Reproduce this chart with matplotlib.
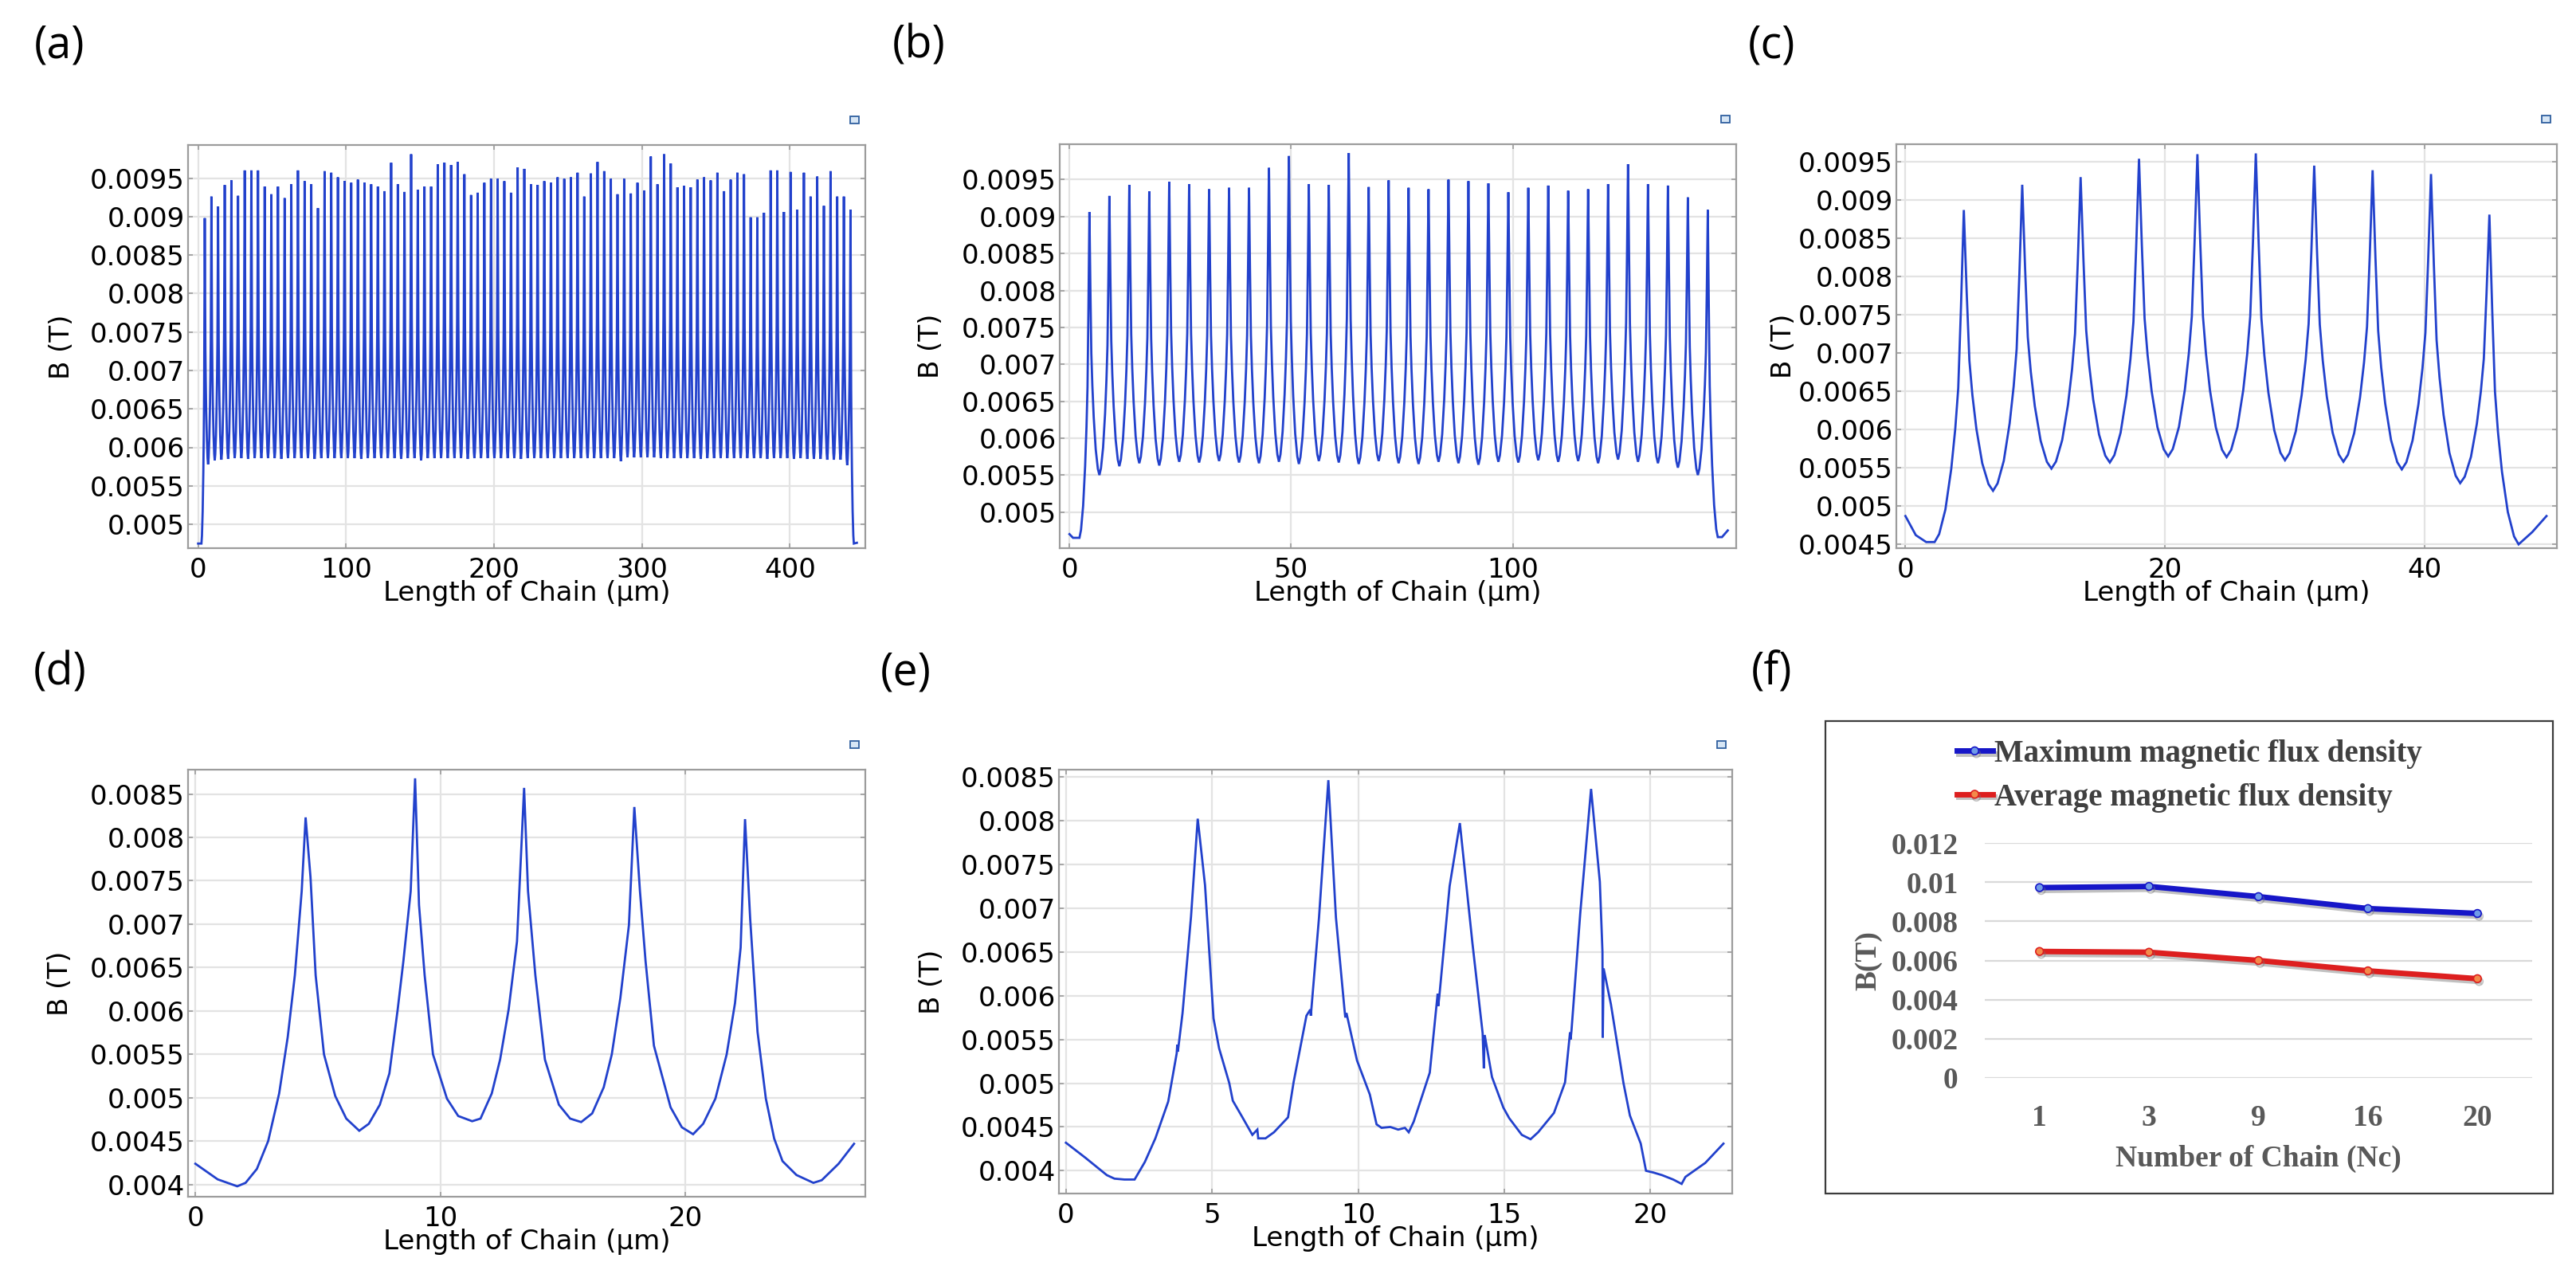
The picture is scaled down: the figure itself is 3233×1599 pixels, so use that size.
import matplotlib.pyplot as plt
import matplotlib.patheffects as pe
from matplotlib.lines import Line2D
from matplotlib.patches import Rectangle
import numpy as np

W, H = 3233, 1599

# shape of one peak (fraction of height above trough vs distance from peak, um)
PROFILE_DX = [0.0, 0.22, 0.43, 0.66, 0.97, 1.42, 1.9, 2.25]
PROFILE_F = [1.0, 0.707, 0.463, 0.341, 0.22, 0.098, 0.024, 0.0]
PITCH = 4.5

# (a) peak and trough values, mT
A_PEAK = [8.98, 9.26, 9.13, 9.41, 9.47, 9.27, 9.60, 9.60, 9.60, 9.39,
          9.29, 9.39, 9.24, 9.42, 9.60, 9.46, 9.42, 9.11, 9.59, 9.57,
          9.51, 9.46, 9.44, 9.48, 9.44, 9.42, 9.39, 9.33, 9.70, 9.42,
          9.32, 9.81, 9.35, 9.39, 9.39, 9.68, 9.70, 9.67, 9.71, 9.55,
          9.28, 9.31, 9.44, 9.49, 9.49, 9.46, 9.31, 9.64, 9.62, 9.42,
          9.41, 9.46, 9.44, 9.51, 9.49, 9.51, 9.57, 9.26, 9.56, 9.71,
          9.59, 9.49, 9.29, 9.49, 9.30, 9.44, 9.34, 9.78, 9.42, 9.81,
          9.69, 9.38, 9.40, 9.38, 9.48, 9.51, 9.47, 9.57, 9.33, 9.48,
          9.57, 9.55, 8.99, 8.99, 9.05, 9.60, 9.60, 9.06, 9.58, 9.09,
          9.57, 9.26, 9.52, 9.14, 9.59, 9.26, 9.26, 9.09]
A_TROUGH = [5.78, 5.83, 5.84, 5.85, 5.86, 5.86, 5.85, 5.86, 5.86, 5.86,
            5.86, 5.85, 5.86, 5.86, 5.86, 5.86, 5.85, 5.86, 5.86, 5.86,
            5.86, 5.86, 5.86, 5.85, 5.86, 5.86, 5.86, 5.86, 5.86, 5.85,
            5.86, 5.86, 5.83, 5.86, 5.86, 5.86, 5.86, 5.86, 5.86, 5.85,
            5.86, 5.86, 5.86, 5.86, 5.86, 5.86, 5.86, 5.85, 5.86, 5.86,
            5.86, 5.86, 5.86, 5.86, 5.86, 5.86, 5.86, 5.86, 5.86, 5.86,
            5.86, 5.86, 5.82, 5.87, 5.87, 5.87, 5.87, 5.87, 5.86, 5.86,
            5.86, 5.86, 5.86, 5.86, 5.85, 5.86, 5.86, 5.86, 5.86, 5.86,
            5.86, 5.86, 5.86, 5.86, 5.85, 5.86, 5.86, 5.86, 5.85, 5.86,
            5.85, 5.85, 5.85, 5.84, 5.84, 5.84, 5.77]
A_HEAD = [(0.0, 4.75)]
A_TAIL_MIN = 4.75
A_TAIL = [(445.3, 4.76)]

# (b)
B_PEAK = [9.06, 9.28, 9.43, 9.34, 9.47, 9.44, 9.37, 9.39, 9.39, 9.66,
          9.82, 9.44, 9.43, 9.86, 9.40, 9.49, 9.39, 9.37, 9.50, 9.48,
          9.45, 9.33, 9.39, 9.42, 9.35, 9.37, 9.44, 9.71, 9.44, 9.42,
          9.26, 9.09]
B_TROUGH = [5.50, 5.62, 5.66, 5.63, 5.68, 5.67, 5.69, 5.67, 5.66, 5.68,
            5.65, 5.69, 5.67, 5.65, 5.69, 5.66, 5.65, 5.68, 5.66, 5.64,
            5.68, 5.67, 5.70, 5.68, 5.69, 5.66, 5.71, 5.68, 5.66, 5.60,
            5.50]
B_HEAD = [(0.0, 4.70), (0.8, 4.65)]
B_TAIL_MIN = 4.66
B_TAIL = [(147.2, 4.66), (148.5, 4.75)]

# (c)
C_PEAK = [8.87, 9.20, 9.30, 9.54, 9.60, 9.61, 9.45, 9.39, 9.34, 8.81]
C_TROUGH = [5.20, 5.49, 5.57, 5.65, 5.64, 5.60, 5.58, 5.48, 5.30]
C_HEAD = [(0.0, 4.87), (0.8, 4.62), (1.6, 4.53)]
C_TAIL_MIN = 4.50
C_TAIL = [(48.3, 4.66), (49.4, 4.87)]

# (d) traced points: length (um), B (mT)
D_X = [0.0, 0.91, 1.71, 2.05, 2.51, 2.97, 3.42, 3.77, 4.06, 4.34, 4.5,
       4.7, 4.91, 5.25, 5.71, 6.16, 6.69, 7.08, 7.53, 7.92, 8.26, 8.49, 8.79, 8.97,
       9.13, 9.36, 9.7, 10.27, 10.73, 11.3, 11.64, 12.1, 12.44, 12.79, 13.13, 13.42,
       13.58, 13.88, 14.27, 14.84, 15.3, 15.75, 16.2, 16.67, 17.0, 17.35, 17.7, 17.92,
       18.15, 18.38, 18.72, 19.4, 19.86, 20.32, 20.73, 21.23, 21.69, 22.03, 22.26, 22.44,
       22.65, 22.95, 23.29, 23.63, 23.97, 24.54, 25.23, 25.57, 26.26, 26.89]
D_B = [4.24, 4.06, 3.98, 4.02, 4.18, 4.50, 5.05, 5.70, 6.41, 7.38, 8.23,
       7.54, 6.41, 5.50, 5.02, 4.76, 4.62, 4.70, 4.92, 5.28, 6.02, 6.57, 7.38, 8.68,
       7.22, 6.41, 5.50, 4.99, 4.79, 4.73, 4.76, 5.05, 5.44, 6.02, 6.80, 8.57,
       7.38, 6.41, 5.44, 4.92, 4.76, 4.72, 4.82, 5.12, 5.50, 6.15, 6.99, 8.35,
       7.38, 6.57, 5.60, 4.89, 4.66, 4.58, 4.70, 4.99, 5.50, 6.09, 6.73, 8.21,
       7.06, 5.76, 4.99, 4.53, 4.27, 4.11, 4.02, 4.05, 4.24, 4.47]

# (e) traced points
E_X = [0.0, 0.66, 1.4, 1.66, 2.0, 2.35, 2.7, 3.06, 3.5, 3.79, 3.81, 3.83, 3.99, 4.28, 4.51,
       4.76, 5.05, 5.24, 5.59, 5.71, 6.04, 6.38, 6.55, 6.58, 6.83, 7.12, 7.6, 7.79, 8.23,
       8.36, 8.38, 8.66, 8.98, 9.24, 9.53, 9.56, 9.6, 9.96, 10.4, 10.63, 10.8, 11.1, 11.37,
       11.6, 11.73, 11.9, 12.45, 12.72, 12.74, 12.78, 13.13, 13.48, 13.91, 14.26, 14.3, 14.33,
       14.58, 14.97, 15.17, 15.6, 15.9, 16.16, 16.7, 17.08, 17.25, 17.27, 17.3, 17.6, 17.97,
       18.27, 18.36, 18.37, 18.4, 18.65, 19.08, 19.3, 19.67, 19.85, 20.1, 20.4, 20.78, 21.07,
       21.2, 21.88, 22.5]
E_B = [4.32, 4.15, 3.95, 3.91, 3.90, 3.90, 4.10, 4.37, 4.79, 5.34, 5.44, 5.36, 5.80, 6.90, 8.02,
       7.26, 5.74, 5.40, 5.00, 4.80, 4.61, 4.41, 4.47, 4.37, 4.37, 4.44, 4.61, 5.01, 5.77,
       5.84, 5.77, 6.89, 8.46, 6.89, 5.85, 5.75, 5.80, 5.26, 4.87, 4.53, 4.49, 4.50, 4.47,
       4.49, 4.44, 4.56, 5.12, 6.02, 5.88, 6.00, 7.25, 7.97, 6.60, 5.57, 5.17, 5.55,
       5.07, 4.72, 4.60, 4.41, 4.36, 4.44, 4.66, 5.01, 5.58, 5.50, 5.60, 6.94, 8.36,
       7.30, 6.50, 5.52, 6.31, 5.90, 5.00, 4.63, 4.31, 4.00, 3.98, 3.95, 3.90, 3.85,
       3.93, 4.09, 4.31]

# (f) summary
NC_LABELS = ['1', '3', '9', '16', '20']
B_MAX = [0.00972, 0.00978, 0.00926, 0.00865, 0.00840]
B_AVG = [0.00646, 0.00642, 0.00600, 0.00547, 0.00507]
F_YTICKS = [0, 0.002, 0.004, 0.006, 0.008, 0.01, 0.012]
F_YTICKLABELS = ['0', '0.002', '0.004', '0.006', '0.008', '0.01', '0.012']

A_YTICKS = [0.005, 0.0055, 0.006, 0.0065, 0.007, 0.0075, 0.008, 0.0085, 0.009, 0.0095]
C_YTICKS = [0.0045] + A_YTICKS
D_YTICKS = [0.004, 0.0045, 0.005, 0.0055, 0.006, 0.0065, 0.007, 0.0075, 0.008, 0.0085]

CURVE = '#2241cc'
SANS = 'DejaVu Sans'
SERIF = 'Liberation Serif'
FS = 24.5


def chain(peaks, troughs, head, tail_min, tail):
    xs = [p[0] for p in head]
    ys = [p[1] for p in head]
    lows = [head[-1][1]] + list(troughs) + [tail_min]
    for i, pk in enumerate(peaks):
        c = PITCH * (i + 1)
        lo, hi = lows[i], lows[i + 1]
        for dx, f in zip(PROFILE_DX[::-1], PROFILE_F[::-1]):
            if dx == 0:
                continue
            if i == 0 and c - dx <= xs[-1]:
                continue
            if i > 0 and dx == PROFILE_DX[-1]:
                continue
            xs.append(c - dx)
            ys.append(lo + (pk - lo) * f)
        xs.append(c)
        ys.append(pk)
        for dx, f in zip(PROFILE_DX[1:], PROFILE_F[1:]):
            xs.append(c + dx)
            ys.append(hi + (pk - hi) * f)
    for x, y in tail:
        xs.append(x)
        ys.append(y)
    return np.array(xs), np.array(ys) * 1e-3


def rect(l, t, r, b):
    return [l / W, 1 - b / H, (r - l) / W, (b - t) / H]


fig = plt.figure(figsize=(W / 100, H / 100), dpi=100)


def comsol(box, x, y, xlim, ylim, xticks, yticks, ylab_x):
    l, t, r, b = box
    ax = fig.add_axes(rect(l, t, r, b))
    ax.plot(x, y, color=CURVE, lw=2.0, solid_joinstyle='miter')
    ax.set_xlim(xlim)
    ax.set_ylim(ylim)
    ax.set_xticks(xticks)
    ax.set_xticklabels([str(v) for v in xticks])
    ax.set_yticks(yticks)
    ax.set_yticklabels([f'{v:g}' for v in yticks])
    ax.grid(True, color='#e3e3e3', lw=1.6)
    ax.set_axisbelow(True)
    for s in ax.spines.values():
        s.set_color('#9c9c9c')
        s.set_linewidth(1.6)
    ax.tick_params(direction='in', length=4, width=1.2, color='#9c9c9c',
                   top=True, right=True, labelsize=FS)
    ax.tick_params(axis='x', pad=8)
    ax.tick_params(axis='y', pad=3)
    for lab in ax.get_xticklabels() + ax.get_yticklabels():
        lab.set_family(SANS)
    ax.set_xlabel('Length of Chain (µm)', fontsize=FS, family=SANS)
    ax.xaxis.set_label_coords(0.5, -40 / (b - t))
    ax.set_ylabel('B (T)', fontsize=FS, family=SANS, va='center')
    ax.yaxis.set_label_coords(ylab_x, 0.5)
    # little COMSOL camera icon
    fig.add_artist(Rectangle(((r - 19) / W, 1 - (t - 27) / H), 11 / W, 9 / H,
                             transform=fig.transFigure, facecolor='#d7e6f5',
                             edgecolor='#2f5f9f', lw=1.3))
    return ax


xa, ya = chain(A_PEAK, A_TROUGH, A_HEAD, A_TAIL_MIN, A_TAIL)
comsol((236, 182, 1086, 688), xa, ya, (-6.8, 451), (0.00469, 0.00993),
       [0, 100, 200, 300, 400], A_YTICKS, -0.187)

xb, yb = chain(B_PEAK, B_TROUGH, B_HEAD, B_TAIL_MIN, B_TAIL)
comsol((1330, 181, 2179, 688), xb, yb, (-2.2, 150.4), (0.00451, 0.00998),
       [0, 50, 100], A_YTICKS, -0.19)

xc, yc = chain(C_PEAK, C_TROUGH, C_HEAD, C_TAIL_MIN, C_TAIL)
comsol((2380, 181, 3209, 688), xc, yc, (-0.7, 50.2), (0.00445, 0.00973),
       [0, 20, 40], C_YTICKS, -0.171)

comsol((236, 966, 1086, 1502), np.array(D_X), np.array(D_B) * 1e-3, (-0.3, 27.35),
       (0.00386, 0.00878), [0, 10, 20], D_YTICKS, -0.189)

comsol((1329, 966, 2174, 1498), np.array(E_X), np.array(E_B) * 1e-3, (-0.24, 22.8),
       (0.00374, 0.00858), [0, 5, 10, 15, 20], D_YTICKS, -0.189)

# (f) excel style summary chart
fig.add_artist(Rectangle((2291 / W, 1 - 1498 / H), (3204 - 2291) / W, (1498 - 905) / H,
                         transform=fig.transFigure, facecolor='none',
                         edgecolor='#3c3c3c', lw=1.6))
axf = fig.add_axes(rect(2491, 1058, 3178, 1353))
pos = np.arange(len(NC_LABELS))
shadow = [pe.SimpleLineShadow(offset=(1.5, -2.5), shadow_color='#777777', alpha=0.45), pe.Normal()]
lmax, = axf.plot(pos, B_MAX, color='#1616c8', lw=5, marker='o', ms=7,
                 mfc='#6f9be8', mec='#1616c8', mew=1.2, path_effects=shadow, clip_on=False,
                 label='Maximum magnetic flux density')
lavg, = axf.plot(pos, B_AVG, color='#dd1f1f', lw=5, marker='o', ms=7,
                 mfc='#f38a4a', mec='#dd1f1f', mew=1.2, path_effects=shadow, clip_on=False,
                 label='Average magnetic flux density')
axf.set_xlim(-0.5, len(NC_LABELS) - 0.5)
axf.set_ylim(0, 0.012)
axf.set_xticks(pos)
axf.set_xticklabels(NC_LABELS)
axf.set_yticks(F_YTICKS)
axf.set_yticklabels(F_YTICKLABELS)
for s in axf.spines.values():
    s.set_visible(False)
axf.yaxis.grid(True, color='#d9d9d9', lw=1.6)
axf.set_axisbelow(True)
axf.tick_params(length=0, labelsize=27, labelcolor='#595959')
axf.tick_params(axis='x', pad=24)
axf.tick_params(axis='y', pad=24)
for lab in axf.get_xticklabels() + axf.get_yticklabels():
    lab.set_family(SERIF)
    lab.set_weight('bold')
axf.set_xlabel('Number of Chain (Nc)', fontsize=27, family=SERIF, weight='bold', color='#595959')
axf.xaxis.set_label_coords(0.5, -84 / 295)
axf.set_ylabel('B(T)', fontsize=27, family=SERIF, weight='bold', color='#595959', va='center')
axf.yaxis.set_label_coords((2345 - 2491) / 687, 0.5)
fig.legend(handles=[lmax, lavg], loc='upper left',
           bbox_to_anchor=(2456 / W, 1 - 928 / H), frameon=False,
           prop={'family': SERIF, 'weight': 'bold', 'size': 28},
           labelcolor='#404040', handlelength=1.15, handletextpad=0.05,
           labelspacing=0.45, borderpad=0, borderaxespad=0)

# panel letters
for txt, cx, cy in [('(a)', 75, 58), ('(b)', 1153, 58), ('(c)', 2223, 58),
                    ('(d)', 75, 845), ('(e)', 1137, 845), ('(f)', 2223, 845)]:
    fig.text(cx / W, 1 - cy / H, txt, fontsize=40, family='Open Sans',
             ha='center', va='center')

fig.savefig('out.png', dpi=100, facecolor='white')
